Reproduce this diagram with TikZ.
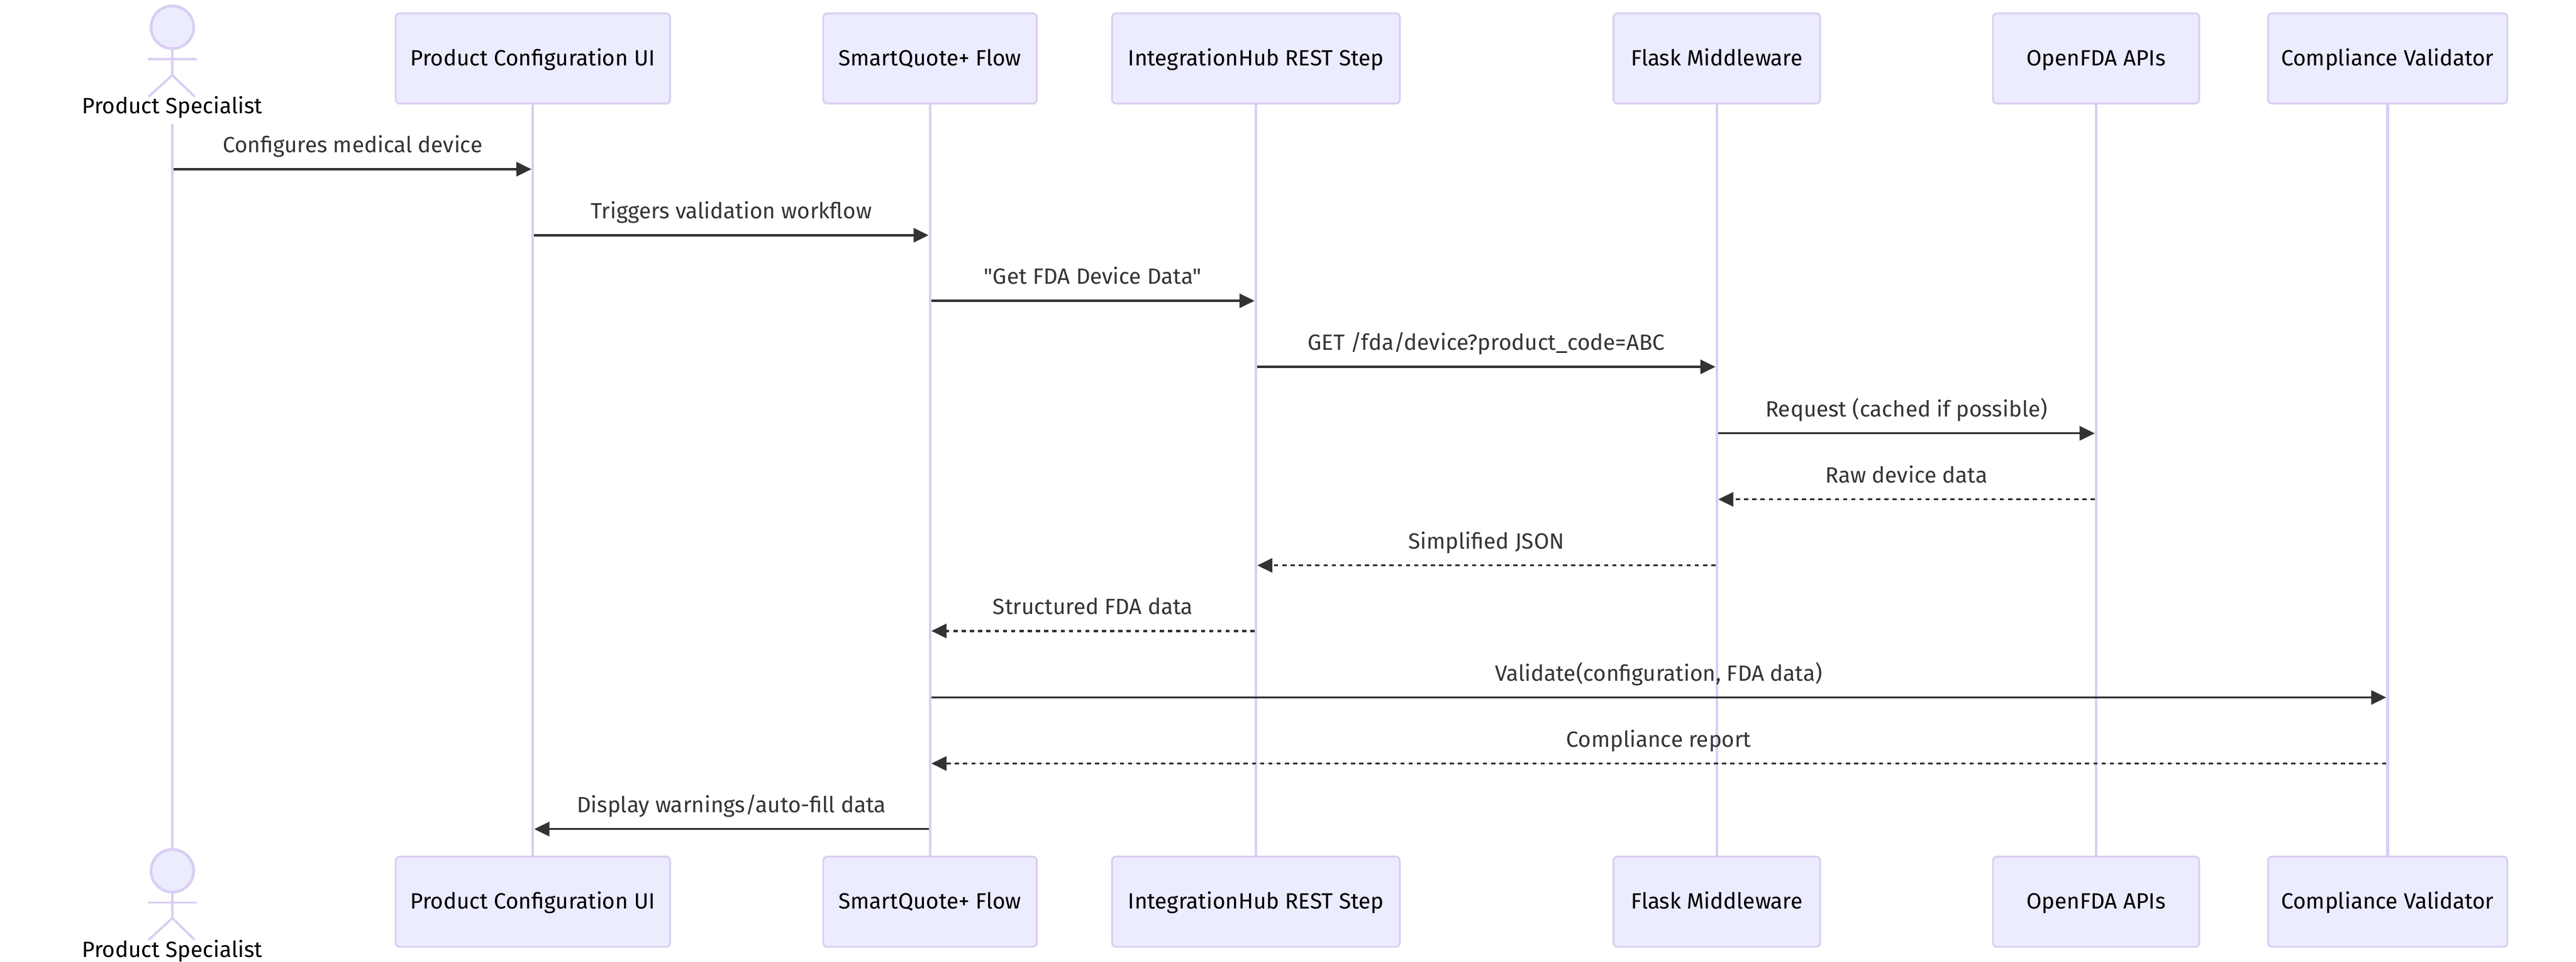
\documentclass[tikz,border=0pt]{standalone}
\usepackage{fontspec}
\setmainfont{Fira Sans}[Ligatures=TeXOff]
\usetikzlibrary{arrows.meta,positioning}
\definecolor{lifecol}{HTML}{DACEF3}
\definecolor{boxfill}{HTML}{ECECFF}
\definecolor{msgcol}{HTML}{333333}

\begin{document}
\begin{tikzpicture}[
  node distance=1.64cm,
  box/.style={draw=lifecol,fill=boxfill,rectangle,rounded corners=0.09cm,align=center,
    line width=0.04cm,minimum height=1.97cm,outer sep=0pt,inner sep=0pt,text=black,
    text height=0.38cm,text depth=0.07cm,font=\fontsize{13.7pt}{16pt}\selectfont},
  head/.style={draw=lifecol,fill=boxfill,circle,line width=0.06cm,
    minimum size=0.93cm,inner sep=0pt,outer sep=0pt},
  stick/.style={draw=lifecol,line width=0.05cm},
  actorname/.style={text=black,inner sep=0pt,anchor=base,font=\fontsize{13.7pt}{16pt}\selectfont},
  lifeline/.style={draw=lifecol,line width=0.06cm},
  msg/.style={-{Triangle[length=3.3mm,width=3.1mm]},draw=msgcol,fill=msgcol,line width=0.045cm,
    shorten <=0.03cm,shorten >=0.03cm},
  reply/.style={msg,dash pattern=on 0.09cm off 0.09cm},
  lbl/.style={midway,anchor=base,yshift=0.36cm,inner sep=0pt,text=msgcol,
    font=\fontsize{13.7pt}{16pt}\selectfont}
]
  \useasboundingbox (0,0) rectangle (56.20,-20.97);
  % top row
  \node[box,minimum width=5.99cm] (ui) at (11.625,-1.275) {Product Configuration UI};
  \node[box,minimum width=4.66cm,right=3.34cm of ui] (flow) {SmartQuote+ Flow};
  \node[box,minimum width=6.28cm,right=of flow] (rest) {IntegrationHub REST Step};
  \node[box,minimum width=4.51cm,right=4.66cm of rest] (flask) {Flask Middleware};
  \node[box,minimum width=4.50cm,right=3.77cm of flask] (fda) {OpenFDA APIs};
  \node[box,minimum width=5.22cm,right=1.50cm of fda] (check) {Compliance Validator};
  % bottom row
  \node[box,minimum width=5.99cm,below=16.42cm of ui] (uib) {Product Configuration UI};
  \node[box,minimum width=4.66cm,right=3.34cm of uib] (flowb) {SmartQuote+ Flow};
  \node[box,minimum width=6.28cm,right=of flowb] (restb) {IntegrationHub REST Step};
  \node[box,minimum width=4.51cm,right=4.66cm of restb] (flaskb) {Flask Middleware};
  \node[box,minimum width=4.50cm,right=3.77cm of flaskb] (fdab) {OpenFDA APIs};
  \node[box,minimum width=5.22cm,right=1.50cm of fdab] (checkb) {Compliance Validator};
  % actor on top
  \node[head] (sp) at (3.76,-0.595) {};
  \coordinate (sphip) at (3.76,-1.64);
  \node[actorname] (spname) at (3.76,-2.47) {Product Specialist};
  \coordinate (spstart) at (3.76,-2.70);
  \coordinate (sparml) at (3.22,-1.29);
  \coordinate (sparmr) at (4.30,-1.29);
  \coordinate (splegl) at (3.24,-2.11);
  \coordinate (split) at (4.25,-2.11);
  \draw[stick] (sp) -- (sphip);
  \draw[stick] (sparml) -- (sparmr);
  \draw[stick] (sphip) -- (splegl);
  \draw[stick] (sphip) -- (split);
  % actor below
  \node[head] (spb) at (3.76,-18.99) {};
  \coordinate (spbhip) at (3.76,-20.02);
  \node[actorname] (spbname) at (3.76,-20.87) {Product Specialist};
  \coordinate (spbarml) at (3.22,-19.68);
  \coordinate (spbarmr) at (4.30,-19.68);
  \coordinate (spblegl) at (3.24,-20.50);
  \coordinate (spblegr) at (4.25,-20.50);
  \draw[stick] (spb) -- (spbhip);
  \draw[stick] (spbarml) -- (spbarmr);
  \draw[stick] (spbhip) -- (spblegl);
  \draw[stick] (spbhip) -- (spblegr);
  % lifelines
  \draw[lifeline] (spstart) -- (spb);
  \draw[lifeline] (ui) -- (uib);
  \draw[lifeline] (flow) -- (flowb);
  \draw[lifeline] (rest) -- (restb);
  \draw[lifeline] (flask) -- (flaskb);
  \draw[lifeline] (fda) -- (fdab);
  \draw[lifeline] (check) -- (checkb);
  % message rows
  \coordinate (r1) at (0,-3.69);
  \coordinate (r2) at (0,-5.13);
  \coordinate (r3) at (0,-6.56);
  \coordinate (r4) at (0,-8.00);
  \coordinate (r5) at (0,-9.45);
  \coordinate (r6) at (0,-10.89);
  \coordinate (r7) at (0,-12.33);
  \coordinate (r8) at (0,-13.76);
  \coordinate (r9) at (0,-15.21);
  \coordinate (r10) at (0,-16.65);
  \coordinate (r11) at (0,-18.08);
  \draw[msg] (sp |- r1) -- node[lbl] {Configures medical device} (ui |- r1);
  \draw[msg] (ui |- r2) -- node[lbl] {Triggers validation workflow} (flow |- r2);
  \draw[msg] (flow |- r3) -- node[lbl] {"Get FDA Device Data"} (rest |- r3);
  \draw[msg] (rest |- r4) -- node[lbl] {GET /fda/device?product\_code=ABC} (flask |- r4);
  \draw[msg] (flask |- r5) -- node[lbl] {Request (cached if possible)} (fda |- r5);
  \draw[reply] (fda |- r6) -- node[lbl] {Raw device data} (flask |- r6);
  \draw[reply] (flask |- r7) -- node[lbl] {Simplified JSON} (rest |- r7);
  \draw[reply] (rest |- r8) -- node[lbl] {Structured FDA data} (flow |- r8);
  \draw[msg] (flow |- r9) -- node[lbl] {Validate(configuration, FDA data)} (check |- r9);
  \draw[reply] (check |- r10) -- node[lbl] {Compliance report} (flow |- r10);
  \draw[msg] (flow |- r11) -- node[lbl] {Display warnings/auto-fill data} (ui |- r11);
\end{tikzpicture}
\end{document}
